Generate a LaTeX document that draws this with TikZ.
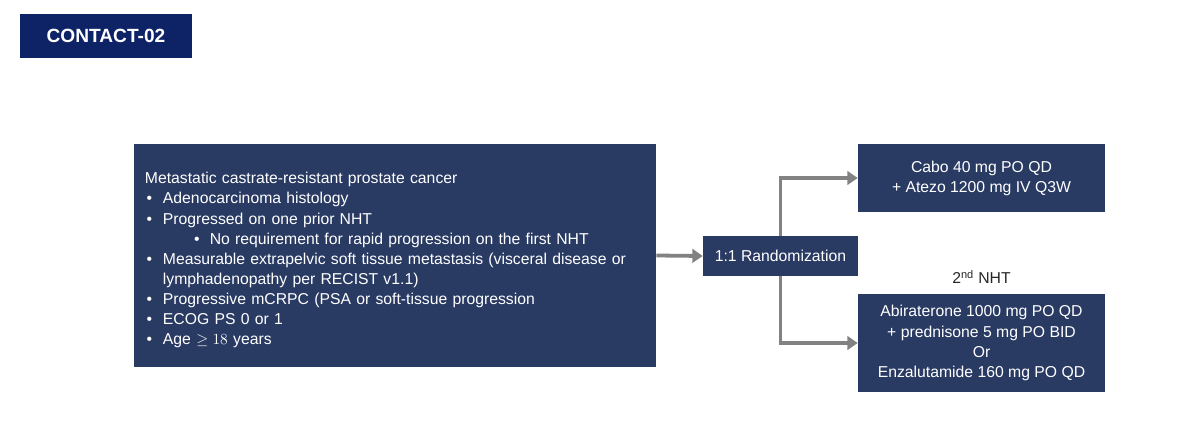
\documentclass[tikz,border=0pt]{standalone}
\usepackage{fontspec}
\setmainfont{Liberation Sans}
\usepackage{tikz}
\usetikzlibrary{arrows.meta}

\definecolor{titlenavy}{HTML}{0E2366}
\definecolor{boxnavy}{HTML}{293A63}
\definecolor{linkgray}{HTML}{828282}

\newcommand{\bul}{\makebox[4.5mm][l]{\hspace{0.4mm}\textbullet}}
\newcommand{\subbul}{\hspace*{12.3mm}\makebox[3.9mm][l]{\textbullet}}

\begin{document}
\begin{tikzpicture}[x=0.25mm,y=-0.25mm,
  navybox/.style={fill=boxnavy,text=white,inner sep=0pt,align=center,
    font=\fontsize{11.2}{14.3}\selectfont},
  link/.style={draw=linkgray,line width=2.7pt,
    -{Triangle[length=2.6mm,width=3.4mm]}}]
  % canvas in pixel units of the slide
  \useasboundingbox (0,0) rectangle (1200,436);

  \node[fill=titlenavy,text=white,minimum width=43mm,minimum height=10.75mm,
    font=\fontsize{13.6}{15}\selectfont\bfseries] (title) at (106,36) {CONTACT-02};

  \node[navybox,align=left,text width=125mm,inner xsep=2.75mm,
    minimum height=55.75mm] (crit) at (395,255.5) {%
    \rule{0pt}{5.2mm}Metastatic castrate-resistant prostate cancer\\
    \bul Adenocarcinoma histology\\
    \bul Progressed on one prior NHT\\
    \subbul No requirement for rapid progression on the first NHT\\
    \bul Measurable extrapelvic soft tissue metastasis (visceral disease or\\
    \hspace*{4.5mm}lymphadenopathy per RECIST v1.1)\\
    \bul Progressive mCRPC (PSA or soft-tissue progression\\
    \bul ECOG PS 0 or 1\\
    \bul Age $\geq 18$ years};

  \node[navybox,minimum width=38.75mm,minimum height=10mm] (rand) at (780.5,256)
    {1:1 Randomization};
  \node[navybox,minimum width=61.75mm,minimum height=17mm] (cabo) at (981.5,178)
    {Cabo 40 mg PO QD\\+ Atezo 1200 mg IV Q3W};
  \node[navybox,minimum width=61.75mm,minimum height=24.5mm] (nht) at (981.5,343)
    {Abiraterone 1000 mg PO QD\\+ prednisone 5 mg PO BID\\Or\\Enzalutamide 160 mg PO QD};
  \node[text=black!85,font=\fontsize{11.2}{13}\selectfont,anchor=south]
    (nhtlabel) at (nht.north) [yshift=1.2mm] {2\textsuperscript{nd} NHT};

  \draw[link] (crit.east) -- (rand.west);
  \draw[link] (rand.north) |- (cabo.west);
  \draw[link] (rand.south) |- (nht.west);
\end{tikzpicture}
\end{document}
